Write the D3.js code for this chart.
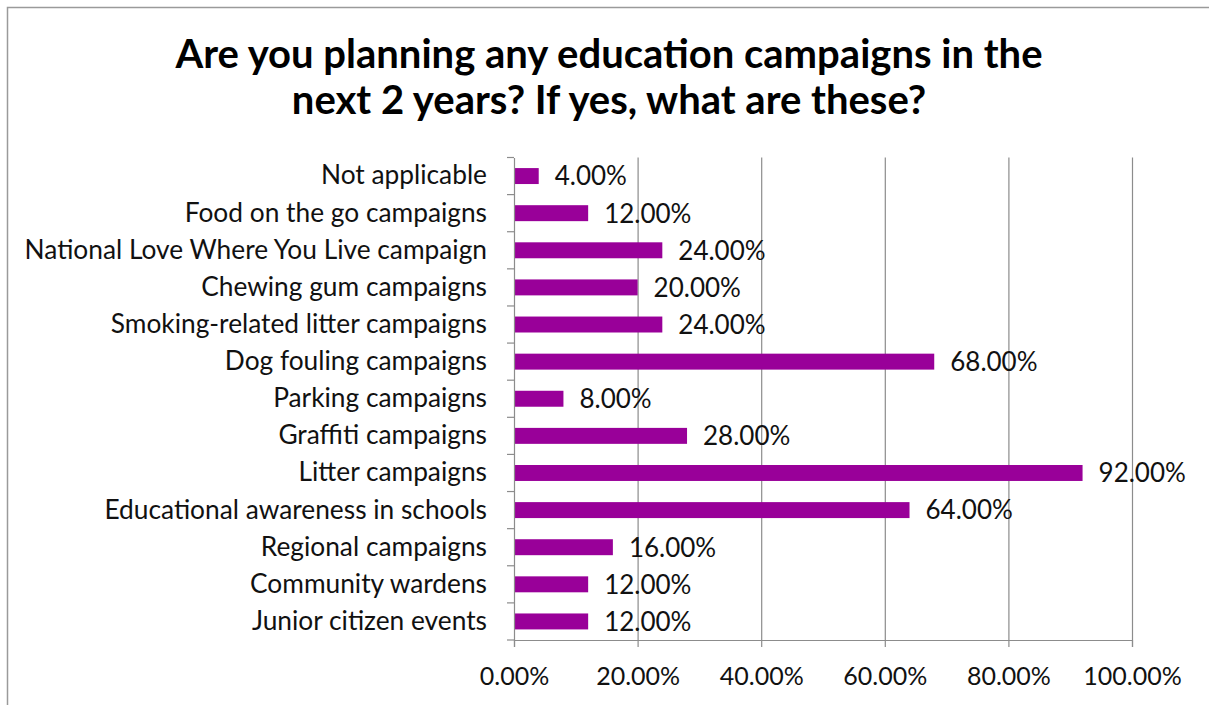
<!DOCTYPE html>
<html>
<head>
<meta charset="utf-8">
<script src="https://cdn.jsdelivr.net/npm/d3@7/dist/d3.min.js"></script>
<style>
  html, body { margin: 0; padding: 0; background: #fff; }
  svg { display: block; }
  text { font-family: Lato, "Open Sans", sans-serif; fill: #111; }
</style>
</head>
<body>
<svg id="chart" width="1209" height="705"></svg>
<script>
// Survey answers, listed top to bottom as shown in the chart
const categories = [
  "Not applicable",
  "Food on the go campaigns",
  "National Love Where You Live campaign",
  "Chewing gum campaigns",
  "Smoking-related litter campaigns",
  "Dog fouling campaigns",
  "Parking campaigns",
  "Graffiti campaigns",
  "Litter campaigns",
  "Educational awareness in schools",
  "Regional campaigns",
  "Community wardens",
  "Junior citizen events"
];
// Share of respondents (fraction) per answer
const values = [0.04, 0.12, 0.24, 0.20, 0.24, 0.68, 0.08, 0.28, 0.92, 0.64, 0.16, 0.12, 0.12];
// Horizontal axis ticks
const xTicks = [0, 0.2, 0.4, 0.6, 0.8, 1.0];
const titleLines = [
  "Are you planning any education campaigns in the",
  "next 2 years? If yes, what are these?"
];

const W = 1209, H = 705;
const plot = { left: 514, right: 1132, top: 157.5, bottom: 640 };
const barColor = "#990099";
const gridColor = "#8c8c8c";
const pct = d => (d * 100).toFixed(2) + "%";

const svg = d3.select("#chart");

// Outer chart frame (right and bottom edges run past the canvas)
svg.append("rect")
  .attr("x", 7.5).attr("y", 7.5)
  .attr("width", W + 30).attr("height", H + 30)
  .attr("fill", "#fff")
  .attr("stroke", "#9a9a9a").attr("stroke-width", 1.5);

// Title
svg.append("g").selectAll("text")
  .data(titleLines)
  .join("text")
  .attr("x", 609)
  .attr("y", (d, i) => 67.5 + i * 46.5)
  .attr("text-anchor", "middle")
  .style("font-size", "40px")
  .style("font-weight", "700")
  .style("fill", "#000")
  .text(d => d);

const x = d3.scaleLinear().domain([0, 1]).range([plot.left, plot.right]);
const y = d3.scaleBand().domain(categories)
  .range([plot.top, plot.bottom])
  .paddingInner(0.57).paddingOuter(0.285);

// Vertical gridlines
svg.append("g")
  .attr("transform", `translate(0,${plot.top})`)
  .call(d3.axisBottom(x).tickValues(xTicks.slice(1)).tickSize(plot.bottom - plot.top).tickFormat(""))
  .call(g => g.select(".domain").remove())
  .call(g => g.selectAll("line").attr("stroke", gridColor).attr("stroke-width", 1.2));

// Bars
svg.append("g").selectAll("rect")
  .data(values)
  .join("rect")
  .attr("x", x(0))
  .attr("y", (d, i) => y(categories[i]))
  .attr("width", d => x(d) - x(0))
  .attr("height", y.bandwidth())
  .attr("fill", barColor);

// Value labels
svg.append("g").selectAll("text")
  .data(values)
  .join("text")
  .attr("x", d => x(d) + 16)
  .attr("y", (d, i) => y(categories[i]) + y.bandwidth() / 2)
  .attr("dy", "0.36em")
  .style("font-size", "26px")
  .text(d => pct(d));

// X axis
const xAxis = svg.append("g")
  .attr("transform", `translate(0,${plot.bottom})`)
  .call(d3.axisBottom(x).tickValues(xTicks).tickFormat(pct).tickSize(7).tickPadding(20));
xAxis.select(".domain").attr("stroke", gridColor).attr("stroke-width", 1.2);
xAxis.selectAll(".tick line").attr("stroke", gridColor).attr("stroke-width", 1.2);
xAxis.selectAll(".tick text")
  .style("font-size", "25px")
  .style("font-family", "Lato, sans-serif")
  .attr("fill", "#111");

// Y axis: labels centred on each band, tick marks at band boundaries
const yAxis = svg.append("g")
  .attr("transform", `translate(${plot.left},0)`)
  .call(d3.axisLeft(y).tickSize(0).tickPadding(27));
yAxis.select(".domain").attr("stroke", gridColor).attr("stroke-width", 1.2);
yAxis.selectAll(".tick text")
  .style("font-size", "26.3px")
  .style("font-family", "Lato, sans-serif")
  .attr("fill", "#111");

const step = y.step();
const bounds = d3.range(categories.length + 1).map(i => plot.top + i * step);
svg.append("g").selectAll("line")
  .data(bounds)
  .join("line")
  .attr("x1", plot.left - 7).attr("x2", plot.left)
  .attr("y1", d => d).attr("y2", d => d)
  .attr("stroke", gridColor).attr("stroke-width", 1.2);
</script>
</body>
</html>
